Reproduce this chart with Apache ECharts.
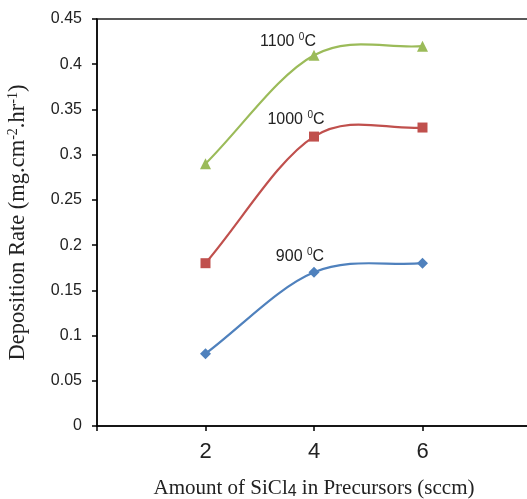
<!DOCTYPE html>
<html>
<head>
<meta charset="utf-8">
<script src="https://cdn.jsdelivr.net/npm/echarts@6/dist/echarts.min.js"></script>
<style>
  html, body { margin: 0; padding: 0; background: #fff; }
  #chart { width: 527px; height: 499px; }
</style>
</head>
<body>
<div id="chart"></div>
<script>
  // values
  var sccm = [2, 4, 6];
  var rate900 = [0.08, 0.17, 0.18];
  var rate1000 = [0.18, 0.32, 0.33];
  var rate1100 = [0.29, 0.41, 0.42];
  var xTicks = [2, 4, 6];

  var colors = {c900: '#4f81bd', c1000: '#c0504d', c1100: '#9bbb59'};

  function pairs(ys) {
    return sccm.map(function (x, i) { return [x, ys[i]]; });
  }

  // label sits on the middle point of each curve
  function withLabel(ys, temp, offset, dist) {
    var d = pairs(ys);
    d[1] = {
      value: d[1],
      label: {
        show: true,
        position: 'top',
        distance: dist,
        offset: offset,
        formatter: temp + ' {sup|0}C',
        color: '#222',
        fontFamily: 'Liberation Sans',
        fontSize: 16,
        rich: {sup: {fontSize: 10, verticalAlign: 'top', padding: [0, 0, 8, 0], color: '#222', fontFamily: 'Liberation Sans'}}
      }
    };
    return d;
  }

  // excel-like smoothed curve: catmull-rom segments drawn as beziers
  function curveSeries(ys, color) {
    return {
      type: 'custom',
      silent: true,
      z: 1,
      data: pairs(ys),
      renderItem: function (params, api) {
        var i = params.dataIndex;
        if (i >= sccm.length - 1) return null;
        var p = sccm.map(function (x, k) { return api.coord([x, ys[k]]); });
        var prev = p[Math.max(i - 1, 0)], a = p[i], b = p[i + 1], next = p[Math.min(i + 2, p.length - 1)];
        var s0 = i === 0 ? 1 / 3 : 1 / 6;
        var s1 = i + 2 > p.length - 1 ? 1 / 3 : 1 / 6;
        return {
          type: 'bezierCurve',
          shape: {
            x1: a[0], y1: a[1], x2: b[0], y2: b[1],
            cpx1: a[0] + (b[0] - prev[0]) * s0, cpy1: a[1] + (b[1] - prev[1]) * s0,
            cpx2: b[0] - (next[0] - a[0]) * s1, cpy2: b[1] - (next[1] - a[1]) * s1
          },
          style: {stroke: color, lineWidth: 2.2, fill: null}
        };
      }
    };
  }

  function pointSeries(ys, temp, color, symbol, size, offset, dist) {
    return {
      name: temp, type: 'line', z: 3,
      data: withLabel(ys, temp, offset, dist),
      symbol: symbol, symbolSize: size,
      lineStyle: {opacity: 0},
      itemStyle: {color: color}
    };
  }

  var chart = echarts.init(document.getElementById('chart'));
  var option = {
    backgroundColor: '#fff',
    animation: false,
    grid: {
      left: 97, top: 19, width: 434, bottom: 73,
      outerBoundsMode: 'none',
      show: true, borderColor: '#222', borderWidth: 1.5
    },
    xAxis: {
      type: 'value',
      min: 0, max: 8, interval: 2,
      name: 'Amount of SiCl{sub|4} in Precursors (sccm)',
      nameLocation: 'middle',
      nameGap: 50,
      nameTextStyle: {
        fontFamily: 'Liberation Serif', fontSize: 21, color: '#222',
        rich: {sub: {fontFamily: 'Liberation Sans', fontSize: 16, verticalAlign: 'bottom', padding: [8, 0, 0, 0], color: '#222'}}
      },
      axisLine: {lineStyle: {color: '#000', width: 1.5}},
      axisTick: {length: 5, lineStyle: {color: '#000', width: 1.5}},
      splitLine: {show: false},
      axisLabel: {
        margin: 15, fontFamily: 'Liberation Sans', fontSize: 22, color: '#222',
        formatter: function (v) { return xTicks.indexOf(v) >= 0 ? String(v) : ''; }
      }
    },
    yAxis: {
      type: 'value',
      min: 0, max: 0.45, interval: 0.05,
      name: 'Deposition Rate (mg.cm{sup|-2}.hr{sup|-1})',
      nameLocation: 'middle',
      nameGap: 67,
      nameTextStyle: {
        fontFamily: 'Liberation Serif', fontSize: 22.5, color: '#222',
        rich: {sup: {fontFamily: 'Liberation Serif', fontSize: 14, verticalAlign: 'top', padding: [0, 0, 10, 0], color: '#222'}}
      },
      axisLine: {show: true, lineStyle: {color: '#000', width: 1.5}},
      axisTick: {show: true, length: 5, lineStyle: {color: '#000', width: 1.5}},
      splitLine: {show: false},
      axisLabel: {margin: 15, fontFamily: 'Liberation Sans', fontSize: 16, color: '#222'}
    },
    series: [
      curveSeries(rate900, colors.c900),
      curveSeries(rate1000, colors.c1000),
      curveSeries(rate1100, colors.c1100),
      pointSeries(rate900, '900', colors.c900, 'diamond', 11, [-14, 6], 7),
      pointSeries(rate1000, '1000', colors.c1000, 'rect', 10, [-18, 6], 9),
      pointSeries(rate1100, '1100', colors.c1100, 'triangle', 11, [-26, 6], 5)
    ]
  };
  chart.setOption(option);
</script>
</body>
</html>
